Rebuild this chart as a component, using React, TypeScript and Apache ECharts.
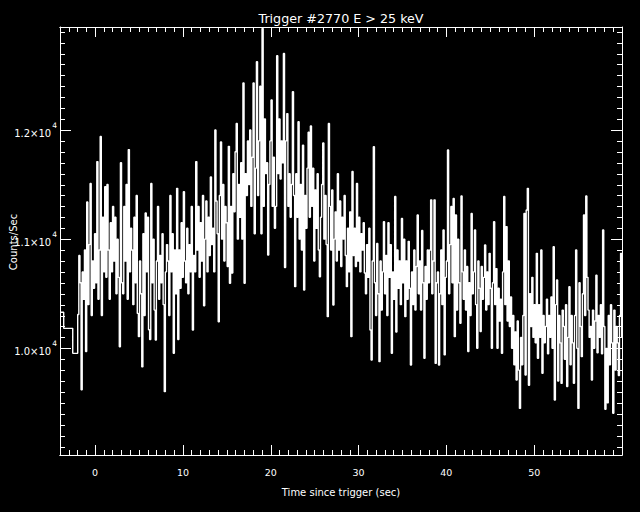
import React, { useEffect, useRef } from 'react';
import * as echarts from 'echarts';

// ---- data ----
// coarse pre-trigger bins (start time, counts/sec)
const preBinTimes = [-4.0, -3.58, -2.55];
const preBinCounts = [10330, 10183, 9954];

// fine bins, start -1.984 s, width 0.128 s
const hiResStart = -1.984;
const hiResBin = 0.128;
const hiResCounts = [
  10310, 10850, 10600, 9620, 10700, 10450, 10900, 9970,
  11340, 10400, 10950, 11510, 10300, 10800, 10550, 11050,
  10600, 11710, 10450, 10900, 11940, 10300, 11200, 10700,
  11480, 10650, 11500, 10900, 10450, 11150, 10700, 11300,
  10800, 11200, 10500, 11000, 10650, 10015, 11700, 10600,
  10500, 11300, 10800, 11500, 10450, 11820, 10700, 11100,
  10900, 10400, 11200, 10600, 11400, 10320, 10107, 10800,
  10500, 9830, 11050, 10300, 11240, 10700, 11200, 10170,
  10080, 11510, 10600, 11000, 10350, 10076, 10800, 11300,
  10450, 10850, 10600, 11050, 10400, 9603, 10700, 10950,
  10800, 10300, 11400, 10700, 11050, 9954, 10900, 10500,
  11465, 10080, 10900, 10550, 11150, 10650, 11435, 10800,
  10600, 11100, 10500, 10950, 10700, 11300, 10168, 10850,
  10700, 11710, 10900, 11300, 10650, 11150, 10800, 11400,
  10390, 11000, 11350, 10700, 11200, 10850, 11570, 10950,
  11100, 10700, 12000, 11350, 11050, 10244, 11400, 11890,
  11000, 11500, 10800, 11300, 11150, 10750, 11850, 10595,
  11300, 10690, 11600, 11250, 11800, 12060, 11000, 11500,
  11200, 11700, 11000, 12430, 10595, 11600, 11400, 11900,
  11500, 12000, 11300, 11750, 12430, 11050, 11650, 12625,
  11400, 11900, 12400, 11050, 12930, 11300, 12100, 11600,
  11700, 10855, 11500, 11900, 12275, 11300, 11750, 11100,
  11300, 12680, 11600, 12100, 11550, 11900, 11700, 12700,
  10740, 11900, 12150, 11300, 11600, 11200, 11500, 12350,
  11400, 10565, 11600, 11200, 12076, 11000, 11500, 10900,
  11860, 10534, 11400, 11100, 11650, 11980, 11200, 12036,
  11300, 11650, 10800, 11450, 11100, 11600, 10900, 10656,
  11200, 11500, 11880, 11000, 11400, 10950, 10290, 12060,
  11300, 10900, 11450, 10397, 11000, 11250, 10800, 11600,
  10900, 11350, 10750, 11200, 11000, 11400, 10850, 10565,
  11100, 10700, 11250, 10107, 11620, 10850, 11100, 10750,
  11510, 10800, 11200, 10700, 11050, 10900, 11150, 10690,
  10500, 10950, 10650, 11100, 10168, 9893, 10800, 11847,
  10600, 10300, 10960, 10500, 9878, 10800, 10350, 10700,
  11160, 10500, 10850, 10300, 11150, 10650, 10950, 9954,
  10700, 10450, 11390, 10150, 10900, 10550, 10800, 10400,
  11190, 10600, 11000, 10290, 10800, 10450, 10980, 10550,
  9847, 10700, 10400, 10900, 10350, 10750, 11221, 10500,
  10800, 10350, 11080, 10600, 9908, 10750, 10450, 10900,
  10600, 10900, 11360, 10500, 10800, 11360, 9862, 10600,
  10700, 9847, 10500, 10900, 10400, 11084, 9940, 10650,
  10800, 11816, 10500, 10950, 11300, 10600, 11373, 10107,
  11221, 10351, 11000, 10600, 10230, 11395, 10700, 10450,
  10900, 10350, 10750, 9970, 10600, 10300, 11236, 10500,
  10700, 11084, 10400, 10000, 10800, 10550, 10153, 10750,
  10450, 10650, 10946, 10350, 10700, 10400, 10870, 10550,
  10000, 10600, 11160, 10400, 10730, 10000, 10550, 10250,
  10450, 9954, 10700, 11390, 10400, 11115, 10250, 10800,
  10200, 10470, 10000, 10300, 9850, 10150, 9710, 10250,
  9800, 9450, 10100, 9850, 10300, 11236, 9756, 11267,
  11465, 9662, 10500, 10200, 10650, 10100, 10400, 10050,
  10870, 9908, 10400, 10100, 10900, 9771, 10300, 10050,
  10200, 10450, 9950, 10300, 10100, 10470, 10000, 10931,
  9527, 10400, 10626, 9700, 10300, 10050, 9679, 10350,
  10200, 9900, 10400, 9650, 10100, 10565, 9850, 10300,
  10050, 9680, 10300, 10900, 10000, 9450, 10600, 10200,
  9924, 10500, 11221, 10300, 11395, 10650, 10350, 10100,
  10200, 9710, 10350, 10000, 10250, 10670, 9960, 10300,
  10100, 10400, 9950, 11084, 10200, 9441, 10000, 9500,
  10300, 9850, 10400, 10050, 9405, 10350, 9800, 10200,
  10050, 9750, 10300, 10870, 10100,
];

// axes
const xRange = [-4, 60];
const yRange = [9023, 12943];
const xMajorLabels = [0, 10, 20, 30, 40, 50];
const yMajorTicks = [10000, 11000, 12000];
const yMajorMantissa = ['1.0', '1.1', '1.2'];
const yExponent = '4';
const yMinorTicks = [
  9100, 9200, 9300, 9400, 9500, 9600, 9700, 9800, 9900,
  10100, 10200, 10300, 10400, 10500, 10600, 10700, 10800, 10900,
  11100, 11200, 11300, 11400, 11500, 11600, 11700, 11800, 11900,
  12100, 12200, 12300, 12400, 12500, 12600, 12700, 12800, 12900,
];

const titleText = 'Trigger #2770 E > 25 keV';
const xTitle = 'Time since trigger (sec)';
const yTitle = 'Counts/Sec';

const FONT = '"DejaVu Sans", sans-serif';
const WHITE = '#ffffff';

export default function App() {
  const ref = useRef<HTMLDivElement>(null);

  useEffect(() => {
    if (!ref.current) return;
    const chart = echarts.init(ref.current, undefined, { renderer: 'svg' });

    const lineData: number[][] = [
      ...preBinTimes.map((t, i) => [t, preBinCounts[i]]),
      ...hiResCounts.map((c, i) => [+(hiResStart + i * hiResBin).toFixed(3), c]),
    ];

    const axisLine = { show: true, onZero: false, lineStyle: { color: WHITE, width: 1 } };
    const xBase = {
      type: 'value',
      min: xRange[0],
      max: xRange[1],
      axisLine,
      splitLine: { show: false },
      minorTick: { show: false },
    };
    const yBase = {
      type: 'value',
      min: yRange[0],
      max: yRange[1],
      axisLine,
      splitLine: { show: false },
    };

    const option: any = {
      animation: false,
      backgroundColor: '#000000',
      grid: { left: 60, right: 18, top: 27, bottom: 57, containLabel: false, outerBoundsMode: 'none' },
      xAxis: [
        {
          ...xBase,
          position: 'bottom',
          interval: 1,
          axisTick: { show: true, inside: true, length: 5, lineStyle: { color: WHITE } },
          axisLabel: { show: false },
        },
        {
          ...xBase,
          position: 'bottom',
          axisTick: { show: true, inside: true, length: 10, lineStyle: { color: WHITE } },
          axisLabel: {
            show: true,
            margin: 12,
            color: WHITE,
            fontSize: 9.5,
            fontFamily: FONT,
            formatter: (v: number) => (xMajorLabels.indexOf(v) >= 0 ? String(v) : ''),
          },
        },
        {
          ...xBase,
          position: 'top',
          interval: 1,
          axisTick: { show: true, inside: true, length: 5, lineStyle: { color: WHITE } },
          axisLabel: { show: false },
        },
        {
          ...xBase,
          position: 'top',
          axisTick: { show: true, inside: true, length: 10, lineStyle: { color: WHITE } },
          axisLabel: { show: false },
        },
      ],
      yAxis: [
        {
          ...yBase,
          position: 'left',
          axisTick: { show: true, inside: true, length: 11, lineStyle: { color: WHITE } },
          axisLabel: {
            show: true,
            margin: 3,
            color: WHITE,
            fontFamily: FONT,
            formatter: (v: number) => {
              const i = yMajorTicks.indexOf(v);
              return i >= 0 ? `{m|${yMajorMantissa[i]}×10}{e|${yExponent}}` : '';
            },
            rich: {
              m: { fontSize: 10, color: WHITE, fontFamily: FONT, padding: [7, 0, 0, 0] },
              e: { fontSize: 7.5, color: WHITE, fontFamily: FONT, verticalAlign: 'top', padding: [0, 0, 0, 1] },
            },
          },
        },
        {
          ...yBase,
          position: 'right',
          axisTick: { show: true, inside: true, length: 11, lineStyle: { color: WHITE } },
          axisLabel: { show: false },
        },
      ],
      graphic: [
        {
          type: 'text',
          x: 341,
          y: 18,
          silent: true,
          style: { text: titleText, fill: WHITE, fontSize: 12.7, fontFamily: FONT, align: 'center', verticalAlign: 'middle' },
        },
        {
          type: 'text',
          x: 341,
          y: 492,
          silent: true,
          style: { text: xTitle, fill: WHITE, fontSize: 10, fontFamily: FONT, align: 'center', verticalAlign: 'middle' },
        },
        {
          type: 'text',
          x: 13,
          y: 242,
          rotation: Math.PI / 2,
          silent: true,
          style: { text: yTitle, fill: WHITE, fontSize: 10, fontFamily: FONT, align: 'center', verticalAlign: 'middle' },
        },
      ],
      series: [
        {
          type: 'line',
          xAxisIndex: 0,
          yAxisIndex: 0,
          data: lineData,
          step: 'end',
          symbol: 'none',
          showSymbol: false,
          silent: true,
          lineStyle: { color: WHITE, width: 1.4 },
        },
        {
          type: 'custom',
          xAxisIndex: 0,
          yAxisIndex: 0,
          silent: true,
          data: yMinorTicks.map((v) => [xRange[0], v]),
          renderItem: (params: any, api: any) => {
            const v = api.value(1);
            const p = api.coord([xRange[0], v]);
            const cs = params.coordSys;
            const y = Math.round(p[1]) + 0.5;
            return {
              type: 'group',
              children: [
                { type: 'line', shape: { x1: cs.x, y1: y, x2: cs.x + 5, y2: y }, style: { stroke: WHITE, lineWidth: 1 } },
                { type: 'line', shape: { x1: cs.x + cs.width - 5, y1: y, x2: cs.x + cs.width, y2: y }, style: { stroke: WHITE, lineWidth: 1 } },
              ],
            };
          },
        },
      ],
    };

    chart.setOption(option);
    return () => chart.dispose();
  }, []);

  return (
    <div
      ref={ref}
      style={{ position: 'fixed', left: 0, top: 0, width: 640, height: 512, background: '#000' }}
    />
  );
}
